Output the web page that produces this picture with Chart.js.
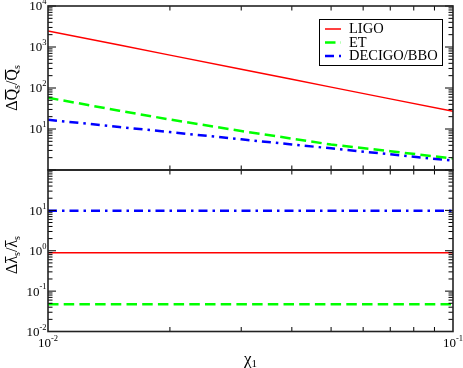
<!DOCTYPE html>
<html>
<head>
<meta charset="utf-8">
<script src="https://cdn.jsdelivr.net/npm/chart.js@4"></script>
<style>
  html, body { margin: 0; padding: 0; background: #fff; }
  #wrap { position: relative; width: 463px; height: 368px; }
  #wrap canvas { position: absolute; left: 0; top: 0; }
</style>
</head>
<body>
<div id="wrap">
  <canvas id="panelTop" width="463" height="368"></canvas>
  <canvas id="panelBottom" width="463" height="368"></canvas>
</div>
<script>
// ---- data ----
const xChi = [0.01, 0.015, 0.02, 0.03, 0.04, 0.05, 0.07, 0.1];
const qLigo = [2466, 1114, 634, 286, 163, 105, 54.3, 27];
const qEt = [57.8, 28.0, 17.0, 8.9, 5.84, 4.17, 2.87, 1.91];
const qDecigo = [16.8, 11.2, 8.4, 5.6, 4.2, 3.37, 2.41, 1.69];

const xChiFlat = [0.01, 0.1];
const lamLigo = [0.89, 0.89];
const lamEt = [0.047, 0.047];
const lamDecigo = [9.8, 9.8];

const seriesNames = ['LIGO', 'ET', 'DECIGO/BBO'];

// tick labels (exponents of 10)
const xTickExp = [-2, -1];
const topYTickExp = [1, 2, 3, 4];
const bottomYTickExp = [-2, -1, 0, 1];

// ---- styles ----
const SERIF = '"Liberation Serif", "Times New Roman", serif';
const lineStyles = [
  { color: '#ff0000', width: 1.5, dash: [] },
  { color: '#00ff00', width: 2.5, dash: [10.5, 5.2] },
  { color: '#0000ff', width: 2.5, dash: [9, 5, 2.5, 5] }
];

function pts(xs, ys) {
  return xs.map((x, i) => ({ x: x, y: ys[i] }));
}

function makeDatasets(xs, seriesList) {
  return seriesList.map((ys, i) => ({
    label: seriesNames[i],
    data: pts(xs, ys),
    borderColor: lineStyles[i].color,
    backgroundColor: lineStyles[i].color,
    borderWidth: lineStyles[i].width,
    borderDash: lineStyles[i].dash,
    pointRadius: 0,
    tension: 0,
    fill: false
  }));
}

// "10" with a raised exponent
function drawPow(ctx, exp, x, y, align) {
  const base = '13px ' + SERIF;
  const small = '8.5px ' + SERIF;
  const sup = String(exp);
  ctx.font = base;
  const wb = ctx.measureText('10').width;
  ctx.font = small;
  const we = ctx.measureText(sup).width;
  const left = align === 'right' ? x - wb - we : x - (wb + we) / 2;
  ctx.textAlign = 'left';
  ctx.textBaseline = 'middle';
  ctx.font = base;
  ctx.fillText('10', left, y);
  ctx.font = small;
  ctx.fillText(sup, left + wb, y - 5);
}

// pieces: [text, kind]  kind: 'n' normal, 'o' overline, 's' subscript
function drawPieces(ctx, pieces, size) {
  const big = size + 'px ' + SERIF;
  const sub = Math.round(size * 0.65) + 'px ' + SERIF;
  let total = 0;
  const widths = pieces.map(p => {
    ctx.font = p[1] === 's' ? sub : big;
    const w = ctx.measureText(p[0]).width;
    total += w;
    return w;
  });
  let u = -total / 2;
  ctx.textAlign = 'left';
  ctx.textBaseline = 'alphabetic';
  pieces.forEach((p, i) => {
    if (p[1] === 's') {
      ctx.font = sub;
      ctx.fillText(p[0], u, size * 0.2);
    } else {
      ctx.font = big;
      ctx.fillText(p[0], u, 0);
      if (p[1] === 'o') {
        ctx.fillRect(u + 1, -size * 0.72, widths[i] - 1.5, 1);
      }
    }
    u += widths[i];
  });
}

function logTicks(scale, fn) {
  const lo = Math.floor(Math.log10(scale.min));
  const hi = Math.ceil(Math.log10(scale.max));
  for (let e = lo; e <= hi; e++) {
    for (let m = 1; m <= 9; m++) {
      const v = m * Math.pow(10, e);
      if (v < scale.min * 0.999 || v > scale.max * 1.001) continue;
      fn(scale.getPixelForValue(v), m === 1);
    }
  }
}

function panelPlugin(cfg) {
  return {
    id: 'panel',
    afterDraw(chart) {
      const ctx = chart.ctx;
      const a = chart.chartArea;
      const xs = chart.scales.x;
      const ys = chart.scales.y;
      ctx.save();
      ctx.strokeStyle = '#000';
      ctx.fillStyle = '#000';

      // ticks, inward on all four sides
      ctx.lineWidth = 1;
      ctx.beginPath();
      logTicks(xs, (p, major) => {
        if (major) return;
        ctx.moveTo(p, a.bottom); ctx.lineTo(p, a.bottom - 4.5);
        ctx.moveTo(p, a.top); ctx.lineTo(p, a.top + 4.5);
      });
      logTicks(ys, (p, major) => {
        const len = major ? 8 : 4.5;
        ctx.moveTo(a.left, p); ctx.lineTo(a.left + len, p);
        ctx.moveTo(a.right, p); ctx.lineTo(a.right - len, p);
      });
      ctx.stroke();

      // frame
      ctx.lineWidth = 1.6;
      ctx.strokeStyle = '#222';
      ctx.strokeRect(a.left, a.top, a.right - a.left, a.bottom - a.top);

      // y tick labels
      cfg.yExp.forEach(e => {
        drawPow(ctx, e, 46.5, ys.getPixelForValue(Math.pow(10, e)) + 1, 'right');
      });

      // x tick labels and title
      if (cfg.xLabels) {
        xTickExp.forEach(e => {
          drawPow(ctx, e, xs.getPixelForValue(Math.pow(10, e)), 343.5, 'center');
        });
        ctx.save();
        ctx.translate((a.left + a.right) / 2, 363.5);
        drawPieces(ctx, [['\u03c7', 'n'], ['1', 's']], 17);
        ctx.restore();
      }

      // y title, rotated
      ctx.save();
      ctx.translate(16.5, cfg.titleY);
      ctx.rotate(-Math.PI / 2);
      drawPieces(ctx, cfg.title, 16);
      ctx.restore();

      // legend
      if (cfg.legend) {
        ctx.fillStyle = '#fff';
        ctx.fillRect(319.5, 19.5, 123, 46);
        ctx.lineWidth = 1;
        ctx.strokeStyle = '#000';
        ctx.strokeRect(319.5, 19.5, 123, 46);
        const rows = [29, 42.5, 56];
        seriesNames.forEach((name, i) => {
          const s = lineStyles[i];
          ctx.beginPath();
          ctx.strokeStyle = s.color;
          ctx.lineWidth = s.width;
          ctx.setLineDash(s.dash);
          ctx.moveTo(325, rows[i]);
          ctx.lineTo(341, rows[i]);
          ctx.stroke();
          ctx.setLineDash([]);
          ctx.fillStyle = '#000';
          ctx.font = '14.5px ' + SERIF;
          ctx.textAlign = 'left';
          ctx.textBaseline = 'middle';
          ctx.fillText(name, 349, rows[i] + 0.5);
        });
      }
      ctx.restore();
    }
  };
}

function makeChart(id, datasets, yMin, yMax, pad, cfg) {
  return new Chart(document.getElementById(id), {
    type: 'line',
    data: { datasets: datasets },
    options: {
      responsive: false,
      animation: false,
      events: [],
      layout: { padding: pad },
      plugins: { legend: { display: false }, tooltip: { enabled: false } },
      scales: {
        x: { type: 'logarithmic', min: 0.01, max: 0.1, display: false },
        y: { type: 'logarithmic', min: yMin, max: yMax, display: false }
      }
    },
    plugins: [panelPlugin(cfg)]
  });
}

makeChart('panelTop',
  makeDatasets(xChi, [qLigo, qEt, qDecigo]),
  1, 10000,
  { left: 48, right: 10, top: 6, bottom: 198 },
  {
    yExp: topYTickExp, xLabels: false, legend: true, titleY: 88,
    title: [['\u0394', 'n'], ['Q', 'o'], ['s', 's'], ['/', 'n'], ['Q', 'o'], ['s', 's']]
  });

makeChart('panelBottom',
  makeDatasets(xChiFlat, [lamLigo, lamEt, lamDecigo]),
  0.01, 100,
  { left: 48, right: 10, top: 170, bottom: 36.5 },
  {
    yExp: bottomYTickExp, xLabels: true, legend: false, titleY: 255,
    title: [['\u0394', 'n'], ['\u03bb', 'o'], ['s', 's'], ['/', 'n'], ['\u03bb', 'o'], ['s', 's']]
  });
</script>
</body>
</html>
